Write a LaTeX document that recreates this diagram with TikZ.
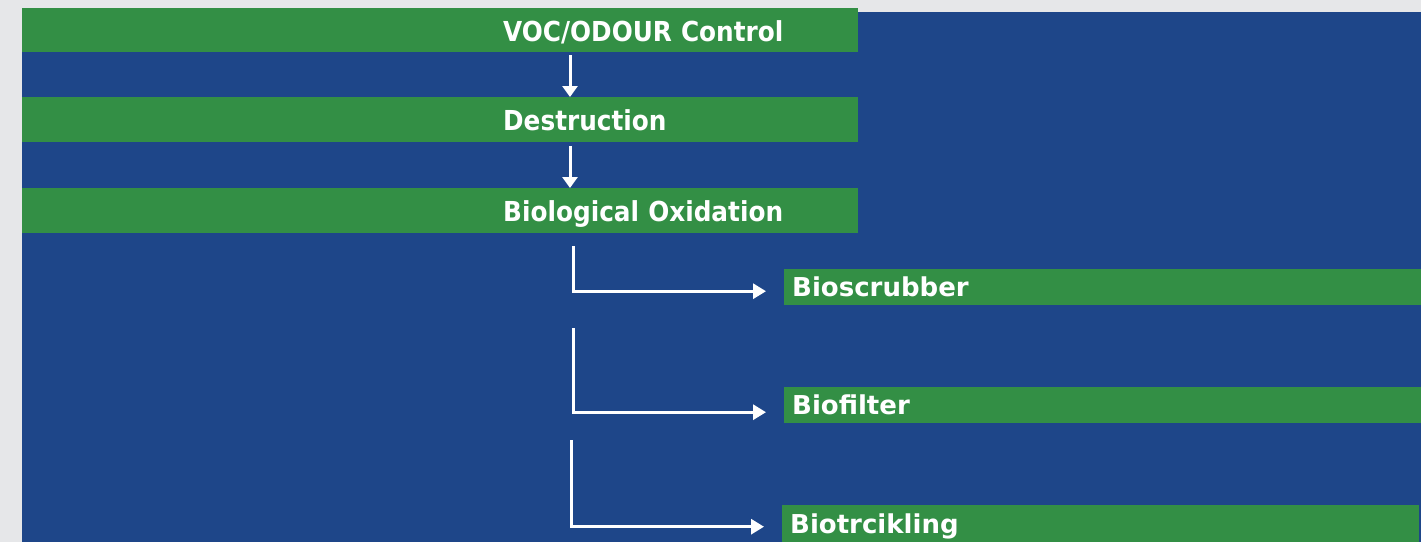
\documentclass[tikz,border=0pt]{standalone}
\usepackage{fontspec}
\setmainfont{DejaVu Sans}
\newfontfamily\narrowfont[FakeStretch=0.9]{DejaVu Sans}
\usetikzlibrary{arrows.meta}
\definecolor{slidegray}{HTML}{E6E7E9}
\definecolor{slideblue}{HTML}{1E4689}
\definecolor{stepgreen}{HTML}{338F45}

\begin{document}
\begin{tikzpicture}[x=1pt, y=-1pt,
        topbar/.style={fill=stepgreen, text=white, font=\narrowfont\bfseries\fontsize{27.5}{30}\selectfont,
            anchor=north west, minimum height=45pt, text width=820pt, align=left,
            inner xsep=8pt, inner ysep=0pt, text height=22pt, text depth=0pt},
        subbar/.style={fill=stepgreen, text=white, font=\bfseries\fontsize{26}{30}\selectfont,
            anchor=north west, minimum height=36pt, text width=621pt, align=left,
            inner xsep=8pt, inner ysep=0pt, text height=19pt, text depth=0pt},
        flow/.style={draw=white, line width=3pt, -{Triangle[length=13pt,width=15pt]}}]
        \useasboundingbox (0,0) rectangle (1421,542);
        \fill[slidegray] (0,0) rectangle (1421,542);
        \fill[slideblue] (22,12) rectangle (1421,542);
        % main chain
        \node[topbar, minimum height=44pt] (voc) at (22,8) {\hspace*{473pt}VOC/ODOUR Control};
        \node[topbar] (destr) at (22,97) {\hspace*{473pt}Destruction};
        \node[topbar] (biox) at (22,188) {\hspace*{473pt}Biological Oxidation};
        % processes
        \node[subbar] (scrub) at (784,269) {Bioscrubber};
        \node[subbar] (filter) at (784,387) {Biofilter};
        \node[subbar, minimum height=37pt] (trick) at (782,505) {Biotrcikling};
        \coordinate (spine) at (570,0);
        \coordinate (drop1) at (573,246);
        \coordinate (drop2) at (573,328);
        \coordinate (drop3) at (571,440);
        \draw[flow, -{Triangle[length=11pt,width=15pt]}, shorten <=3pt] (voc.south -| spine) -- (destr.north -| spine);
        \draw[flow, -{Triangle[length=11pt,width=15pt]}, shorten <=4pt] (destr.south -| spine) -- (biox.north -| spine);
        \draw[flow, shorten >=18pt] (drop1) |- ([yshift=-4pt]scrub.west);
        \draw[flow, shorten >=18pt] (drop2) |- ([yshift=-7pt]filter.west);
        \draw[flow, shorten >=18pt] (drop3) |- ([yshift=-3pt]trick.west);
\end{tikzpicture}
\end{document}
